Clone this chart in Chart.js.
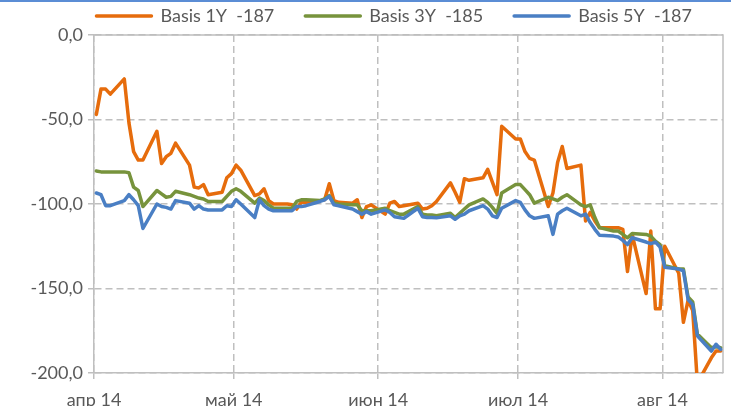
<!DOCTYPE html>
<html>
<head>
<meta charset="utf-8">
<script src="https://cdn.jsdelivr.net/npm/chart.js@4"></script>
<style>
  html, body { margin: 0; padding: 0; background: #fff; overflow: hidden; }
  body { width: 731px; height: 406px; position: relative; }
  #topline { position: absolute; left: 0; top: 0; width: 731px; height: 2px; background: #5b8dd5; }
  canvas { display: block; }
</style>
</head>
<body>
<div id="topline"></div>
<canvas id="chart" width="731" height="420"></canvas>
<script>
// trading days, Apr 1 .. Aug 13 2014
const dates = [
  "2014-04-01", "2014-04-02", "2014-04-03", "2014-04-04", "2014-04-07", "2014-04-08", "2014-04-09", "2014-04-10", "2014-04-11",
  "2014-04-14", "2014-04-15", "2014-04-16", "2014-04-17", "2014-04-18", "2014-04-21", "2014-04-22", "2014-04-23", "2014-04-24",
  "2014-04-25", "2014-04-28", "2014-04-29", "2014-04-30",
  "2014-05-01", "2014-05-02", "2014-05-05", "2014-05-06", "2014-05-07", "2014-05-08", "2014-05-09", "2014-05-12", "2014-05-13",
  "2014-05-14", "2014-05-15", "2014-05-16", "2014-05-19", "2014-05-20", "2014-05-21", "2014-05-22", "2014-05-23", "2014-05-26",
  "2014-05-27", "2014-05-28", "2014-05-29", "2014-05-30",
  "2014-06-02", "2014-06-03", "2014-06-04", "2014-06-05", "2014-06-06", "2014-06-09", "2014-06-10", "2014-06-11", "2014-06-12",
  "2014-06-13", "2014-06-16", "2014-06-17", "2014-06-18", "2014-06-19", "2014-06-20", "2014-06-23", "2014-06-24", "2014-06-25",
  "2014-06-26", "2014-06-27", "2014-06-30",
  "2014-07-01", "2014-07-02", "2014-07-03", "2014-07-04", "2014-07-07", "2014-07-08", "2014-07-09", "2014-07-10", "2014-07-11",
  "2014-07-14", "2014-07-15", "2014-07-16", "2014-07-17", "2014-07-18", "2014-07-21", "2014-07-22", "2014-07-23", "2014-07-24",
  "2014-07-25", "2014-07-28", "2014-07-29", "2014-07-30", "2014-07-31",
  "2014-08-01", "2014-08-04", "2014-08-05", "2014-08-06", "2014-08-07", "2014-08-08", "2014-08-11", "2014-08-12", "2014-08-13"
];

const basis1Y = [
  -47, -32, -32, -35, -26, -52, -69, -74, -74, -57, -76, -72, -70, -64, -77, -90, -90.5, -88.5, -94.5, -93, -84.5, -82,
  -77, -80, -95, -94, -91, -98, -100, -100, -100.5, -103, -99, -99, -98, -97.5, -88, -98, -99, -99.5, -97.5, -108, -101.5, -100.5,
  -106, -99.5, -98.5, -101.5, -101, -99.5, -103, -102.5, -101, -98.5, -87.5, -93, -99, -85, -86, -84.5, -79.5, -87, -94.5, -54, -61.5,
  -61.5, -69, -73, -74, -101.5, -93.5, -75.5, -66, -79, -77, -110, -105, -110, -114, -114, -114, -115, -140, -118, -153, -116, -162, -162,
  -125, -141, -170, -157, -163, -206, -191, -187, -187
];

const basis3Y = [
  -80.5, -81, -81, -81, -81, -81.5, -90, -92, -101.5, -92, -94, -96, -95.5, -92.5, -94.5, -95.5, -96.5, -97, -98.5, -98.5, -95.5, -92.5,
  -91, -92.5, -99.5, -96.5, -98, -100.5, -102.5, -102.5, -102.5, -98.5, -97.5, -97.5, -98, -97, -95, -99.5, -100, -100.5, -100.5, -104, -104, -104,
  -102.5, -104, -105, -106, -106, -101.5, -106, -106.5, -106.5, -107, -105.5, -108, -105.5, -103, -100.5, -97, -99, -102, -105.5, -93.5, -88.5,
  -88.5, -91.5, -94.5, -99.5, -96, -97, -98, -96, -94.5, -100.5, -101.5, -100.5, -108, -114, -116, -116, -118, -120, -117.5, -118, -119, -122, -124,
  -136.5, -138.5, -138.5, -155, -158, -177, -185, -184.5, -185
];

const basis5Y = [
  -93.5, -94.5, -101, -101, -98, -94.5, -97.5, -101, -114.5, -100, -101.5, -102, -103, -98, -99.5, -103, -101, -103, -103.5, -103.5, -101, -101.5,
  -97.5, -100, -108, -97.5, -101, -103, -104, -104, -104, -101.5, -101.5, -101, -98.5, -97.5, -95.5, -100.5, -101, -103, -104.5, -106, -104.5, -106,
  -103.5, -105, -107.5, -108, -108.5, -102.5, -107.5, -108, -108, -108.2, -107, -109, -107, -106, -104, -101, -103, -107, -108, -102.5, -98,
  -99, -103.5, -107, -108.5, -107, -118, -106, -104, -102.5, -107, -106, -111, -115, -118.5, -119, -119.5, -121.5, -124, -120, -122.5, -123.5, -122.5, -125.5,
  -137.5, -138.5, -139.5, -156.5, -159.5, -178, -187, -183, -186
];

const seriesLabels = ["Basis 1Y  -187", "Basis 3Y  -185", "Basis 5Y  -187"];
const seriesColors = ["#e66c0c", "#77933c", "#4a7fc4"];

const monthStarts = ["2014-04-01", "2014-05-01", "2014-06-01", "2014-07-01", "2014-08-01"];
const monthLabels = ["апр 14", "май 14", "июн 14", "июл 14", "авг 14"];
const axisEnd = "2014-08-14";

const DAY = 86400000;
const dayOf = s => (Date.parse(s) - Date.parse(monthStarts[0])) / DAY;

const font = { family: "Lato", size: 18 };
const grey = "#595959";
const gridGrey = "#bfbfbf";

const toPoints = vals => dates.map((d, i) => ({ x: dayOf(d) + 0.5, y: vals[i] }));

const frame = {
  id: "frame",
  beforeDatasetsDraw(chart) {
    const { ctx, chartArea: a } = chart;
    ctx.save();
    ctx.strokeStyle = gridGrey;
    ctx.lineWidth = 1.5;
    ctx.beginPath();
    ctx.moveTo(a.left, a.top);
    ctx.lineTo(a.right, a.top);
    ctx.lineTo(a.right, a.bottom);
    ctx.stroke();
    ctx.restore();
  }
};

new Chart(document.getElementById("chart"), {
  type: "line",
  data: {
    datasets: [basis1Y, basis3Y, basis5Y].map((vals, i) => ({
      label: seriesLabels[i],
      data: toPoints(vals),
      borderColor: seriesColors[i],
      backgroundColor: seriesColors[i],
      borderWidth: 3.5,
      borderJoinStyle: "round",
      borderCapStyle: "round",
      pointRadius: 0,
      tension: 0,
      order: 3 - i
    }))
  },
  options: {
    responsive: false,
    animation: false,
    events: [],
    layout: { padding: { top: -24, left: 20, right: 8, bottom: 0 } },
    plugins: {
      tooltip: { enabled: false },
      legend: {
        position: "top",
        align: "end",
        labels: {
          boxWidth: 55,
          boxHeight: 0,
          padding: 31,
          color: grey,
          font,
          sort: (a, b) => a.datasetIndex - b.datasetIndex
        }
      }
    },
    scales: {
      x: {
        type: "linear",
        min: 0,
        max: dayOf(axisEnd),
        afterFit: s => { s.height = 47; },
        afterBuildTicks: s => { s.ticks = monthStarts.map(m => ({ value: dayOf(m) })); },
        ticks: {
          autoSkip: false,
          maxRotation: 0,
          color: grey,
          font,
          padding: 10,
          callback: v => monthLabels[monthStarts.findIndex(m => dayOf(m) === v)]
        },
        grid: { color: gridGrey, lineWidth: 1.5, tickLength: 6 },
        border: { color: gridGrey, width: 1.5, dash: [7, 4] }
      },
      y: {
        min: -200,
        max: 0,
        afterFit: s => { s.width = 74; },
        ticks: {
          stepSize: 50,
          color: grey,
          font,
          padding: 5,
          callback: v => v.toFixed(1).replace(".", ",")
        },
        grid: { color: gridGrey, lineWidth: 1.5, tickLength: 6 },
        border: { color: gridGrey, width: 1.5, dash: [7, 4] }
      }
    }
  },
  plugins: [frame]
});
</script>
</body>
</html>
